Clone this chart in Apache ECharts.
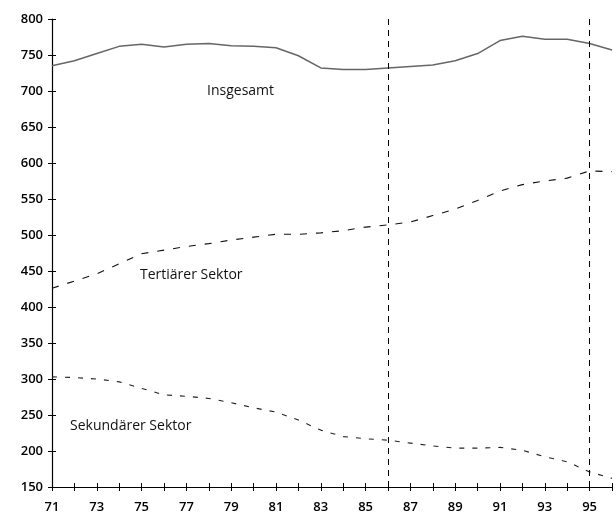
<!DOCTYPE html>
<html><head><meta charset="utf-8">
<script src="https://cdn.jsdelivr.net/npm/echarts@6/dist/echarts.min.js"></script>
<style>html,body{margin:0;padding:0;background:#fff}#c{width:616px;height:519px}</style>
</head><body><div id="c"></div>
<script>
const years = ['71','72','73','74','75','76','77','78','79','80','81','82','83','84','85','86','87','88','89','90','91','92','93','94','95','96'];
const insgesamt = [735,742,752,762,765,761,765,766,763,762,760,749,732,730,730,732,734,736,742,752,770,776,772,772,766,757];
const tertiaer = [426,436,446,460,474,479,484,488,493,497,501,501,503,506,511,514,518,527,536,548,561,570,575,579,589,588];
const sekundaer = [303,302,300,296,287,278,276,273,267,260,254,243,229,220,217,215,211,207,204,204,205,201,192,185,171,162];
const yTicks = {min:150, max:800, interval:50};
const markYears = ['86','95'];
const labelTexts = ['Insgesamt','Tertiärer Sektor','Sekundärer Sektor'];

const chart = echarts.init(document.getElementById('c'), null, {renderer:'canvas'});
const font = 'Open Sans';
const baseX = {type:'category', data:years, boundaryGap:false, gridIndex:0};
const baseY = {type:'value', min:yTicks.min, max:yTicks.max, interval:yTicks.interval, gridIndex:0};
chart.setOption({
  animation:false,
  backgroundColor:'#fff',
  grid:{left:52, right:4, top:19, bottom:32},
  xAxis:[
    Object.assign({}, baseX, {
      axisLine:{lineStyle:{color:'#000', width:1.2}},
      axisTick:{show:true, interval:0, length:4, lineStyle:{color:'#000'}},
      axisLabel:{interval:1, color:'#000', fontFamily:font, fontSize:13, fontWeight:600, margin:14},
      splitLine:{show:false}
    }),
    Object.assign({}, baseX, {
      position:'bottom',
      axisLine:{show:false},
      axisTick:{show:true, inside:true, interval:0, length:4, lineStyle:{color:'#000'}},
      axisLabel:{show:false}, splitLine:{show:false}
    })
  ],
  yAxis:[
    Object.assign({}, baseY, {
      axisLine:{show:true, lineStyle:{color:'#000', width:1.2}},
      axisTick:{show:true, length:4, lineStyle:{color:'#000'}},
      axisLabel:{color:'#000', fontFamily:font, fontSize:13, fontWeight:600, margin:9},
      splitLine:{show:false}
    }),
    Object.assign({}, baseY, {
      position:'left',
      axisLine:{show:false},
      axisTick:{show:true, inside:true, length:4, lineStyle:{color:'#000'}},
      axisLabel:{show:false}, splitLine:{show:false}
    })
  ],
  series:[
    {name:'Insgesamt', type:'line', data:insgesamt, symbol:'none',
     lineStyle:{color:'#666', width:1.5, type:'solid'},
     markLine:{silent:true, symbol:'none', label:{show:false},
       lineStyle:{color:'#000', width:1, type:[6,5]},
       data: markYears.map(y=>({xAxis:y}))}},
    {name:'Tertiärer Sektor', type:'line', data:tertiaer, symbol:'none',
     lineStyle:{color:'#111', width:1.1, type:[7,9]}},
    {name:'Sekundärer Sektor', type:'line', data:sekundaer, symbol:'none',
     lineStyle:{color:'#222', width:1.1, type:[5,8]}}
  ],
  graphic:[
    {type:'text', left:207, top:84, style:{text:labelTexts[0], fill:'#111', font:'14px "Open Sans"'}},
    {type:'text', left:140, top:268, style:{text:labelTexts[1], fill:'#111', font:'14px "Open Sans"'}},
    {type:'text', left:70, top:419, style:{text:labelTexts[2], fill:'#111', font:'14px "Open Sans"'}}
  ]
});
</script></body></html>
